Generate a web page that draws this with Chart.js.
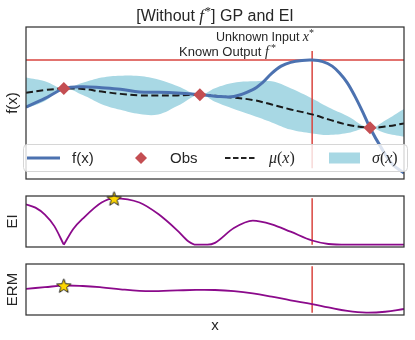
<!DOCTYPE html>
<html>
<head>
<meta charset="utf-8">
<script src="https://cdn.jsdelivr.net/npm/chart.js@4.4.0/dist/chart.umd.min.js"></script>
<style>
    html, body { margin: 0; padding: 0; background: #fff; }
    #wrap { position: relative; width: 415px; height: 340px; overflow: hidden; }
    #wrap canvas { position: absolute; left: 0; }
</style>
</head>
<body>
<div id="wrap">
    <canvas id="gpChart" width="415" height="186" style="top:0"></canvas>
    <canvas id="eiChart" width="415" height="70" style="top:186px"></canvas>
    <canvas id="ermChart" width="415" height="84" style="top:256px"></canvas>
</div>
<script>
// ---- data ----
const xs = [0, 0.05, 0.1, 0.15, 0.2, 0.25, 0.3, 0.35, 0.4, 0.46, 0.5, 0.55, 0.6, 0.65, 0.7, 0.757, 0.8, 0.85, 0.91, 0.95, 1];
const muVals = [0.27, 0.34, 0.38, 0.37, 0.30, 0.24, 0.20, 0.20, 0.20, 0.22, 0.19, 0.14, 0.08, -0.04, -0.17, -0.30, -0.43, -0.57, -0.65, -0.62, -0.54];
const upperVals = [0.67, 0.57, 0.38, 0.53, 0.67, 0.72, 0.71, 0.62, 0.45, 0.22, 0.39, 0.53, 0.57, 0.57, 0.39, 0.12, -0.11, -0.34, -0.65, -0.46, -0.16];
const lowerVals = [-0.14, 0.05, 0.38, 0.21, -0.03, -0.18, -0.29, -0.30, -0.08, 0.22, 0.03, -0.16, -0.33, -0.51, -0.70, -0.80, -0.84, -0.79, -0.65, -0.79, -0.89];

const fX = [0, 0.05, 0.1, 0.15, 0.2, 0.25, 0.3, 0.35, 0.4, 0.46, 0.5, 0.55, 0.6, 0.625, 0.65, 0.675, 0.7, 0.73, 0.757, 0.785, 0.81, 0.83, 0.85, 0.87, 0.89, 0.91, 0.94, 0.97, 1];
const fTrue = [-0.11, 0.12, 0.38, 0.43, 0.40, 0.36, 0.29, 0.28, 0.26, 0.22, 0.18, 0.17, 0.35, 0.53, 0.78, 0.97, 1.07, 1.12, 1.13, 1.09, 0.97, 0.78, 0.53, 0.18, -0.22, -0.65, -1.18, -1.62, -1.84];

const obsX = [0.1, 0.46, 0.91];
const obsY = [0.38, 0.22, -0.65];
const fStar = 1.13;
const xStar = 0.757;
const xStarLine = [-1.72, 1.37];

const eiX = [0, 0.025, 0.05, 0.075, 0.1, 0.125, 0.15, 0.2, 0.233, 0.3, 0.35, 0.4, 0.43, 0.45, 0.48, 0.5, 0.55, 0.6, 0.65, 0.7, 0.757, 0.8, 0.85, 0.9, 1];
const eiVals = [0.87, 0.80, 0.65, 0.40, 0, 0.34, 0.56, 0.91, 1.0, 0.91, 0.66, 0.31, 0.07, 0, 0, 0.04, 0.36, 0.52, 0.44, 0.28, 0.09, 0.015, 0, 0, 0];
const eiKink = 0.1;
const eiBest = [0.233, 1.0];

const ermX = [0, 0.05, 0.1, 0.15, 0.2, 0.25, 0.3, 0.35, 0.4, 0.45, 0.5, 0.55, 0.6, 0.65, 0.7, 0.757, 0.8, 0.85, 0.9, 0.95, 1];
const ermVals = [0.515, 0.55, 0.585, 0.576, 0.546, 0.504, 0.472, 0.467, 0.48, 0.491, 0.489, 0.465, 0.417, 0.346, 0.267, 0.185, 0.113, 0.037, 0.0, 0.02, 0.08];
const ermBest = [0.1, 0.585];
const panelLine = [0, 1];

// ---- styles ----
const fColor = '#4c72b0';
const obsColor = '#c44e52';
const bandColor = '#a8d8e4';
const redColor = '#d9453f';
const acqColor = '#8b0a8b';
const textColor = '#262626';
const SANS = '"Liberation Sans", Arial, sans-serif';
const SERIF = '"Liberation Serif", serif';

const pts = (xa, ya) => xa.map((x, i) => ({ x: x, y: ya[i] }));

function makeStar(size) {
    const c = document.createElement('canvas');
    c.width = size; c.height = size;
    const g = c.getContext('2d');
    const cx = size / 2, cy = size / 2 + 0.8, R = size / 2 - 1, r = R * 0.42;
    g.beginPath();
    for (let i = 0; i < 10; i++) {
        const a = -Math.PI / 2 + i * Math.PI / 5;
        const rr = i % 2 ? r : R;
        g.lineTo(cx + rr * Math.cos(a), cy + rr * Math.sin(a));
    }
    g.closePath();
    g.fillStyle = '#ffd700'; g.fill();
    g.lineWidth = 1; g.strokeStyle = '#222'; g.stroke();
    return c;
}
const starImg = makeStar(17);

function richText(ctx, parts, x, y, align) {
    let total = 0;
    parts.forEach(p => { ctx.font = p.font; p.w = ctx.measureText(p.t).width + (p.gap || 0); total += p.w; });
    let cx = align === 'center' ? x - total / 2 : (align === 'right' ? x - total : x);
    ctx.textAlign = 'left';
    parts.forEach(p => { ctx.font = p.font; ctx.fillText(p.t, cx, y + (p.dy || 0)); cx += p.w; });
}

// frame + axis labels for every panel
const panelDecor = {
    id: 'panelDecor',
    afterDraw(chart, args, opts) {
        const { ctx, chartArea: a } = chart;
        ctx.save();
        ctx.strokeStyle = '#333';
        ctx.lineWidth = 1.25;
        ctx.strokeRect(a.left, a.top, a.right - a.left, a.bottom - a.top);
        ctx.fillStyle = textColor;
        ctx.font = '15px ' + SANS;
        ctx.textBaseline = 'middle';
        ctx.textAlign = 'center';
        ctx.translate(13, (a.top + a.bottom) / 2);
        ctx.rotate(-Math.PI / 2);
        ctx.fillText(opts.ylabel, 0, 0);
        ctx.restore();
        if (opts.xlabel) {
            ctx.save();
            ctx.fillStyle = textColor;
            ctx.font = '15px ' + SANS;
            ctx.textAlign = 'center';
            ctx.textBaseline = 'middle';
            ctx.fillText(opts.xlabel, (a.left + a.right) / 2, a.bottom + 11);
            ctx.restore();
        }
    }
};

// title, annotations and legend for the GP panel
const gpExtras = {
    id: 'gpExtras',
    afterDraw(chart) {
        const { ctx, chartArea: a } = chart;
        ctx.save();
        ctx.fillStyle = textColor;
        ctx.textBaseline = 'alphabetic';
        richText(ctx, [
            { t: '[Without ', font: '16px ' + SANS },
            { t: 'f', font: 'italic 17px ' + SERIF, gap: 1 },
            { t: '*', font: '12px ' + SERIF, dy: -6 },
            { t: '] GP and EI', font: '16px ' + SANS }
        ], (a.left + a.right) / 2, 20.5, 'center');
        richText(ctx, [
            { t: 'Unknown Input ', font: '12.5px ' + SANS },
            { t: 'x', font: 'italic 14px ' + SERIF },
            { t: '*', font: '10px ' + SERIF, dy: -5 }
        ], 216, 40.5, 'left');
        richText(ctx, [
            { t: 'Known Output ', font: '13px ' + SANS },
            { t: 'f', font: 'italic 14px ' + SERIF, gap: 2 },
            { t: '*', font: '10px ' + SERIF, dy: -5 }
        ], 179, 56, 'left');

        // legend
        const lx = 23.5, ly = 144.5, lw = 384, lh = 27, r = 4;
        ctx.beginPath();
        ctx.moveTo(lx + r, ly);
        ctx.arcTo(lx + lw, ly, lx + lw, ly + lh, r);
        ctx.arcTo(lx + lw, ly + lh, lx, ly + lh, r);
        ctx.arcTo(lx, ly + lh, lx, ly, r);
        ctx.arcTo(lx, ly, lx + lw, ly, r);
        ctx.closePath();
        ctx.fillStyle = 'rgba(255,255,255,0.8)';
        ctx.fill();
        ctx.strokeStyle = '#d6d6d6';
        ctx.lineWidth = 1;
        ctx.stroke();

        const cy = ly + lh / 2;
        ctx.lineWidth = 3;
        ctx.strokeStyle = fColor;
        ctx.beginPath(); ctx.moveTo(27, cy); ctx.lineTo(60, cy); ctx.stroke();

        ctx.fillStyle = obsColor;
        ctx.beginPath();
        ctx.moveTo(141, cy - 6); ctx.lineTo(147, cy); ctx.lineTo(141, cy + 6); ctx.lineTo(135, cy);
        ctx.closePath(); ctx.fill();

        ctx.strokeStyle = '#222';
        ctx.lineWidth = 2;
        ctx.setLineDash([5.5, 2.5]);
        ctx.beginPath(); ctx.moveTo(225, cy); ctx.lineTo(256, cy); ctx.stroke();
        ctx.setLineDash([]);

        ctx.fillStyle = bandColor;
        ctx.fillRect(329, cy - 5.5, 31, 11);

        ctx.fillStyle = textColor;
        ctx.textBaseline = 'middle';
        ctx.font = '15px ' + SANS;
        ctx.textAlign = 'left';
        ctx.fillText('f(x)', 72, cy + 0.5);
        ctx.fillText('Obs', 170, cy + 0.5);
        richText(ctx, [
            { t: 'μ', font: 'italic 16px ' + SERIF },
            { t: '(', font: '16px ' + SERIF },
            { t: 'x', font: 'italic 16px ' + SERIF },
            { t: ')', font: '16px ' + SERIF }
        ], 269, cy + 0.5, 'left');
        richText(ctx, [
            { t: 'σ', font: 'italic 16px ' + SERIF },
            { t: '(', font: '16px ' + SERIF },
            { t: 'x', font: 'italic 16px ' + SERIF },
            { t: ')', font: '16px ' + SERIF }
        ], 372, cy + 0.5, 'left');
        ctx.restore();
    }
};

function baseOptions(yMin, yMax, pad, decor) {
    return {
        responsive: false,
        animation: false,
        events: [],
        layout: { padding: pad },
        scales: {
            x: { type: 'linear', min: 0, max: 1, display: false },
            y: { type: 'linear', min: yMin, max: yMax, display: false }
        },
        plugins: { legend: { display: false }, tooltip: { enabled: false }, panelDecor: decor }
    };
}

new Chart(document.getElementById('gpChart'), {
    type: 'line',
    data: {
        datasets: [
            { data: pts(xs, lowerVals), borderWidth: 0, pointRadius: 0, fill: false, tension: 0.4, order: 6 },
            { data: pts(xs, upperVals), borderWidth: 0, pointRadius: 0, fill: '-1', backgroundColor: bandColor, tension: 0.4, order: 5 },
            { data: [{ x: 0, y: fStar }, { x: 1, y: fStar }], borderColor: redColor, borderWidth: 1.5, pointRadius: 0, order: 4 },
            { data: [{ x: xStar, y: xStarLine[0] }, { x: xStar, y: xStarLine[1] }], borderColor: redColor, borderWidth: 1.5, pointRadius: 0, order: 4 },
            { data: pts(xs, muVals), borderColor: '#1a1a1a', borderWidth: 2, borderDash: [7, 3.5], pointRadius: 0, tension: 0.4, order: 2 },
            { data: pts(fX, fTrue), borderColor: fColor, borderWidth: 3, pointRadius: 0, tension: 0.35, order: 1 },
            { data: pts(obsX, obsY), showLine: false, pointStyle: 'rectRot', pointRadius: 6.5, pointBackgroundColor: obsColor, pointBorderWidth: 0, order: 0 }
        ]
    },
    options: baseOptions(-2, 2, { left: 26, right: 11, top: 27, bottom: 7 }, { ylabel: 'f(x)' }),
    plugins: [panelDecor, gpExtras]
});

const eiLeft = pts(eiX, eiVals).filter(p => p.x <= eiKink);
const eiRight = pts(eiX, eiVals).filter(p => p.x >= eiKink);

new Chart(document.getElementById('eiChart'), {
    type: 'line',
    data: {
        datasets: [
            { data: [{ x: xStar, y: panelLine[0] }, { x: xStar, y: panelLine[1] }], borderColor: redColor, borderWidth: 1.5, pointRadius: 0, order: 3 },
            { data: eiLeft, borderColor: acqColor, borderWidth: 1.8, pointRadius: 0, cubicInterpolationMode: 'monotone', order: 2 },
            { data: eiRight, borderColor: acqColor, borderWidth: 1.8, pointRadius: 0, cubicInterpolationMode: 'monotone', order: 2 },
            { data: [{ x: eiBest[0], y: eiBest[1] }], showLine: false, pointStyle: starImg, clip: false, order: 0 }
        ]
    },
    options: baseOptions(-0.05, 1.05, { left: 26, right: 11, top: 10, bottom: 9 }, { ylabel: 'EI' }),
    plugins: [panelDecor]
});

new Chart(document.getElementById('ermChart'), {
    type: 'line',
    data: {
        datasets: [
            { data: [{ x: xStar, y: panelLine[0] }, { x: xStar, y: panelLine[1] }], borderColor: redColor, borderWidth: 1.5, pointRadius: 0, order: 3 },
            { data: pts(ermX, ermVals), borderColor: acqColor, borderWidth: 1.8, pointRadius: 0, tension: 0.4, order: 2 },
            { data: [{ x: ermBest[0], y: ermBest[1] }], showLine: false, pointStyle: starImg, clip: false, order: 0 }
        ]
    },
    options: baseOptions(-0.05, 1.05, { left: 26, right: 11, top: 8, bottom: 25 }, { ylabel: 'ERM', xlabel: 'x' }),
    plugins: [panelDecor]
});
</script>
</body>
</html>
